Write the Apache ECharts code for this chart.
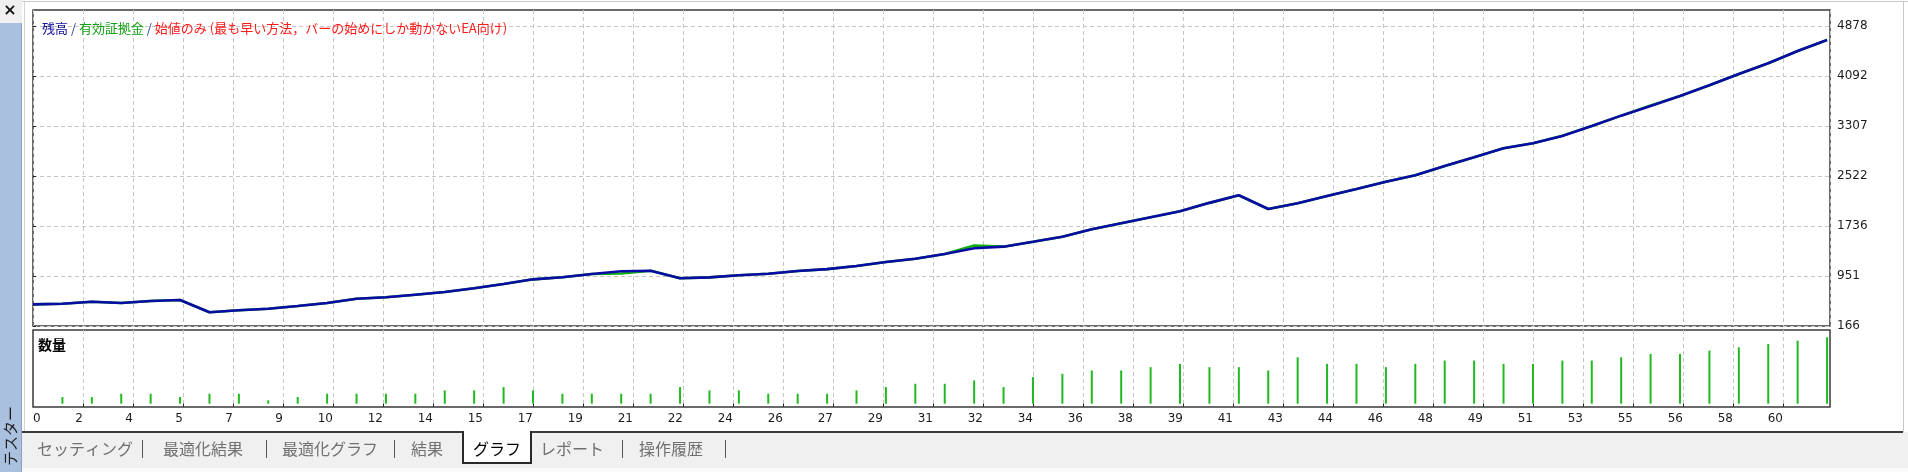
<!DOCTYPE html>
<html><head><meta charset="utf-8">
<script src="https://cdn.jsdelivr.net/npm/echarts@6/dist/echarts.min.js"></script>
<style>html,body{margin:0;padding:0;background:#fff;overflow:hidden}#c{width:1908px;height:472px}</style>
</head><body><div id="c"></div>
<script>
// ---- data (trade index = array index) ----
const balance = [505,516,548,527,559,574,381,413,438,480,527,595,617,658,700,758,826,899,931,983,1025,1034,915,930,962,987,1030,1059,1108,1171,1223,1297,1386,1412,1490,1569,1685,1779,1873,1968,2100,2219,2004,2093,2208,2318,2433,2533,2679,2816,2957,3036,3150,3307,3470,3622,3779,3946,4124,4292,4485,4658];
const equity  = [505,516,548,527,559,574,381,413,438,480,527,595,617,658,700,758,826,899,931,983,990,1034,915,930,962,987,1030,1059,1108,1171,1223,1297,1430,1412,1490,1569,1685,1779,1873,1968,2100,2219,2004,2093,2208,2318,2433,2533,2679,2816,2957,3036,3156,3307,3470,3630,3779,3946,4124,4292,4485,4658];
// lots of trades 1..61
const volume  = [0.02,0.02,0.03,0.03,0.02,0.03,0.03,0.01,0.02,0.03,0.03,0.03,0.03,0.04,0.04,0.05,0.04,0.03,0.03,0.03,0.03,0.05,0.04,0.04,0.03,0.03,0.03,0.04,0.05,0.06,0.06,0.07,0.05,0.08,0.09,0.10,0.10,0.11,0.12,0.11,0.11,0.10,0.14,0.12,0.12,0.11,0.12,0.13,0.13,0.12,0.12,0.13,0.13,0.14,0.15,0.15,0.16,0.17,0.18,0.19,0.20];
const xTickLabels = ['0','2','4','5','7','9','10','12','14','15','17','19','21','22','24','26','27','29','31','32','34','36','38','39','41','43','44','46','48','49','51','53','55','56','58','60'];
const yTickLabels = ['166','951','1736','2522','3307','4092','4878'];
const legendTexts = ['残高', '有効証拠金', '始値のみ (最も早い方法，バーの始めにしか動かないEA向け)'];
const volumeTitle = '数量';
const tabs = ['セッティング','最適化結果','最適化グラフ','結果','グラフ','レポート','操作履歴'];
const activeTab = 'グラフ';
const sideTitle = 'テスター';

// ---- layout ----
const X_STEP = 1.7;          // trades per vertical grid line
const X_MAX = 61.1;
const Y_MIN = Number(yTickLabels[0]);
const Y_STEP = (Number(yTickLabels[6]) - Y_MIN) / 6;
const Y_MAX = Y_MIN + Y_STEP * 316 / 50;
const xTickVals = xTickLabels.map((_, k) => +(k * X_STEP).toFixed(4));
const yTickVals = yTickLabels.map(Number);

const axisFont = '"DejaVu Sans", sans-serif';
const jpFont = '"Noto Sans CJK JP", sans-serif';
const dash = { type: [4, 3], color: '#c6c6c6', width: 1 };

const chart = echarts.init(document.getElementById('c'), null, { renderer: 'canvas' });

// tab graphics
const tabCenters = [85, 203, 330, 427, 497, 572, 671];
const sepXs = [142, 266, 394, 622, 725];
const tabGraphics = [];
tabs.forEach((t, i) => {
  tabGraphics.push({
    type: 'text', x: tabCenters[i], y: 449,
    style: { text: t, font: '16px ' + jpFont, fill: t === activeTab ? '#000' : '#707070', align: 'center', verticalAlign: 'middle' },
    z: 120
  });
});
sepXs.forEach(x => tabGraphics.push({ type: 'rect', shape: { x: x, y: 440, width: 1, height: 18 }, style: { fill: '#555' }, z: 110 }));

chart.setOption({
  animation: false,
  backgroundColor: '#ffffff',
  title: {
    left: 37, top: 15,
    text: '{a|' + legendTexts[0] + '}{s| / }{b|' + legendTexts[1] + '}{s| / }{c|' + legendTexts[2] + '}',
    textStyle: {
      fontFamily: jpFont, fontSize: 13, fontWeight: 'normal', lineHeight: 16,
      rich: {
        a: { color: '#10109a', fontFamily: jpFont, fontSize: 13 },
        s: { color: '#2a3aa0', fontFamily: jpFont, fontSize: 13 },
        b: { color: '#12a012', fontFamily: jpFont, fontSize: 13 },
        c: { color: '#ff1a1a', fontFamily: jpFont, fontSize: 13 }
      }
    }
  },
  grid: [
    { left: 33, top: 10, width: 1797, height: 316, show: true, backgroundColor: '#fff', borderColor: '#3a3a3a', borderWidth: 1.5, containLabel: false },
    { left: 33, top: 330, width: 1797, height: 77, show: true, backgroundColor: '#fff', borderColor: '#3a3a3a', borderWidth: 1.5, containLabel: false }
  ],
  xAxis: [
    { type: 'value', gridIndex: 0, min: 0, max: X_MAX, interval: X_STEP,
      axisLine: { show: false }, axisTick: { show: false }, axisLabel: { show: false },
      splitLine: { show: true, lineStyle: dash } },
    { type: 'value', gridIndex: 1, min: 0, max: X_MAX, interval: X_STEP,
      axisLine: { show: false },
      axisTick: { show: true, length: 3, inside: false, lineStyle: { color: '#222', width: 1 }, customValues: xTickVals.slice(1) },
      axisLabel: { show: true, customValues: xTickVals, margin: 6, align: 'right', alignMinLabel: 'left',
        fontFamily: axisFont, fontSize: 12, color: '#1c1c1c',
        formatter: v => { const k = Math.round(v / X_STEP); return xTickLabels[k] !== undefined ? xTickLabels[k] : ''; } },
      splitLine: { show: true, lineStyle: dash } }
  ],
  yAxis: [
    { type: 'value', gridIndex: 0, position: 'right', min: Y_MIN, max: Y_MAX, interval: Y_STEP,
      axisLine: { show: false },
      axisTick: { show: true, length: 3, inside: false, lineStyle: { color: '#222', width: 1 }, customValues: yTickVals },
      axisLabel: { show: true, customValues: yTickVals, margin: 7, fontFamily: axisFont, fontSize: 12, color: '#1c1c1c',
        formatter: v => { const k = Math.round((v - Y_MIN) / Y_STEP); return yTickLabels[k] !== undefined ? yTickLabels[k] : ''; } },
      splitLine: { show: true, lineStyle: dash } },
    { type: 'value', gridIndex: 1, min: -0.01, max: 0.222,
      axisLine: { show: false }, axisTick: { show: false }, axisLabel: { show: false }, splitLine: { show: false } }
  ],
  series: [
    { name: legendTexts[1], type: 'line', xAxisIndex: 0, yAxisIndex: 0, symbol: 'none', z: 2,
      lineStyle: { color: '#10b010', width: 2.6 }, data: equity.map((v, i) => [i, v]) },
    { name: legendTexts[0], type: 'line', xAxisIndex: 0, yAxisIndex: 0, symbol: 'none', z: 3,
      lineStyle: { color: '#0a0aa6', width: 2.6 }, data: balance.map((v, i) => [i, v]) },
    { name: volumeTitle, type: 'bar', xAxisIndex: 1, yAxisIndex: 1, barWidth: 2, z: 3,
      itemStyle: { color: '#22b822' }, data: volume.map((v, i) => [i + 1, v]) }
  ],
  graphic: [
    { type: 'rect', shape: { x: 0, y: 0, width: 22, height: 472 }, style: { fill: '#f0f0f0' }, z: 100 },
    { type: 'rect', shape: { x: 0, y: 23, width: 21, height: 449 }, style: { fill: '#a9c1de' }, z: 101 },
    { type: 'rect', shape: { x: 21, y: 23, width: 1, height: 449 }, style: { fill: '#8aa3c4' }, z: 101 },
    { type: 'text', x: 10, y: 11, style: { text: '×', font: 'bold 16px "DejaVu Sans"', fill: '#111', align: 'center', verticalAlign: 'middle' }, z: 102 },
    { type: 'text', x: 10, y: 436, rotation: Math.PI / 2, style: { text: sideTitle, font: '15px ' + jpFont, fill: '#1a1a1a', align: 'center', verticalAlign: 'middle' }, z: 102 },
    { type: 'rect', shape: { x: 22, y: 1, width: 1886, height: 1 }, style: { fill: '#c8c8c8' }, z: 100 },
    { type: 'rect', shape: { x: 24, y: 2, width: 1, height: 430 }, style: { fill: '#d4d4d4' }, z: 100 },
    { type: 'rect', shape: { x: 1903, y: 2, width: 1, height: 466 }, style: { fill: '#c8c8c8' }, z: 100 },
    { type: 'text', x: 38, y: 345, style: { text: volumeTitle, font: 'bold 14px ' + jpFont, fill: '#000', verticalAlign: 'middle' }, z: 100 },
    // tab bar
    { type: 'rect', shape: { x: 22, y: 432, width: 1886, height: 36 }, style: { fill: '#f0f0f0' }, z: 100 },
    { type: 'rect', shape: { x: 22, y: 431, width: 441, height: 2 }, style: { fill: '#3a3a3a' }, z: 105 },
    { type: 'rect', shape: { x: 531, y: 431, width: 1372, height: 2 }, style: { fill: '#3a3a3a' }, z: 105 },
    { type: 'rect', shape: { x: 463, y: 431, width: 68, height: 32 }, style: { fill: '#ffffff' }, z: 104 },
    { type: 'polyline', shape: { points: [[463, 431], [463, 463], [531, 463], [531, 431]] }, style: { stroke: '#2a2a2a', lineWidth: 2, fill: null }, z: 106 },
    { type: 'rect', shape: { x: 22, y: 468, width: 1886, height: 4 }, style: { fill: '#fafafa' }, z: 100 }
  ].concat(tabGraphics)
});
</script>
</body></html>
